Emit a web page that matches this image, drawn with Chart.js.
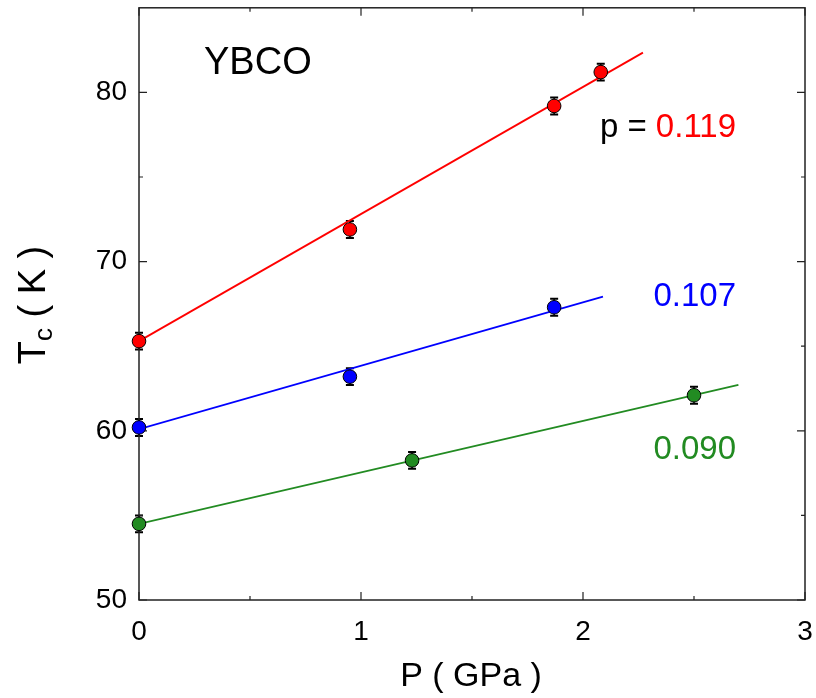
<!DOCTYPE html>
<html>
<head>
<meta charset="utf-8">
<script src="https://cdn.jsdelivr.net/npm/chart.js@4"></script>
<style>
  html, body { margin: 0; padding: 0; background: #ffffff; }
  #wrap { width: 816px; height: 698px; }
</style>
</head>
<body>
<div id="wrap"><canvas id="c" width="816" height="698"></canvas></div>
<script>
// Tc versus pressure for three hole dopings p
const pressure119 = [0, 0.95, 1.87, 2.08];
const tc119 = [65.3, 71.9, 79.2, 81.2];
const pressure107 = [0, 0.95, 1.87];
const tc107 = [60.2, 63.2, 67.3];
const pressure090 = [0, 1.23, 2.50];
const tc090 = [54.5, 58.25, 62.1];
const tcError = 0.5;

// Linear fit lines (start and end)
const fit119P = [0, 2.27];
const fit119T = [65.3, 82.35];
const fit107P = [0, 2.09];
const fit107T = [60.1, 67.93];
const fit090P = [0, 2.70];
const fit090T = [54.5, 62.71];

// Axis ticks
const xMajorTicks = [0, 1, 2, 3];
const xMinorTicks = [0.5, 1.5, 2.5];
const yMajorTicks = [50, 60, 70, 80];
const yMinorTicks = [55, 65, 75];

const RED = '#ff0000', BLUE = '#0000ff', GREEN = '#228b22';
const FONT = '"Liberation Sans", Arial, Helvetica, sans-serif';

const toXY = (xs, ys) => xs.map((x, i) => ({ x: x, y: ys[i] }));

function pointSet(label, xs, ys, color) {
  return {
    label: label, data: toXY(xs, ys), showLine: false, clip: false,
    pointRadius: 6.8, pointHoverRadius: 6.8,
    pointBackgroundColor: color, pointBorderColor: '#000000', pointBorderWidth: 1
  };
}
function fitSet(label, xs, ys, color) {
  return {
    label: label, data: toXY(xs, ys), showLine: true, pointRadius: 0,
    borderColor: color, borderWidth: 1.8, fill: false
  };
}

// Vertical error bars with caps, behind the markers
const errorBars = {
  id: 'errorBars',
  beforeDatasetsDraw(chart) {
    const ctx = chart.ctx, xs = chart.scales.x, ys = chart.scales.y;
    ctx.save();
    ctx.strokeStyle = '#000000';
    chart.data.datasets.forEach(ds => {
      if (ds.showLine) return;
      ds.data.forEach(p => {
        const px = xs.getPixelForValue(p.x);
        const top = ys.getPixelForValue(p.y + tcError);
        const bot = ys.getPixelForValue(p.y - tcError);
        ctx.lineWidth = 1.5;
        ctx.beginPath(); ctx.moveTo(px, top); ctx.lineTo(px, bot); ctx.stroke();
        ctx.lineWidth = 2;
        ctx.beginPath();
        ctx.moveTo(px - 4, top); ctx.lineTo(px + 4, top);
        ctx.moveTo(px - 4, bot); ctx.lineTo(px + 4, bot);
        ctx.stroke();
      });
    });
    ctx.restore();
  }
};

// Frame with inward ticks on all four sides, titles and annotations
const frameAndText = {
  id: 'frameAndText',
  beforeDatasetsDraw(chart) {
    const ctx = chart.ctx, a = chart.chartArea;
    const xs = chart.scales.x, ys = chart.scales.y;
    ctx.save();
    ctx.strokeStyle = '#222222';
    ctx.lineWidth = 1.5;
    ctx.strokeRect(a.left, a.top, a.right - a.left, a.bottom - a.top);
    ctx.lineWidth = 1.2;
    ctx.beginPath();
    const xt = (v, len) => {
      const px = xs.getPixelForValue(v);
      ctx.moveTo(px, a.bottom); ctx.lineTo(px, a.bottom - len);
      ctx.moveTo(px, a.top); ctx.lineTo(px, a.top + len);
    };
    const yt = (v, len) => {
      const py = ys.getPixelForValue(v);
      ctx.moveTo(a.left, py); ctx.lineTo(a.left + len, py);
      ctx.moveTo(a.right, py); ctx.lineTo(a.right - len, py);
    };
    xMajorTicks.forEach(v => xt(v, 8));
    xMinorTicks.forEach(v => xt(v, 4));
    yMajorTicks.forEach(v => yt(v, 8));
    yMinorTicks.forEach(v => yt(v, 4));
    ctx.stroke();
    ctx.restore();
  },
  afterDraw(chart) {
    const ctx = chart.ctx, a = chart.chartArea;
    ctx.save();
    // x-axis title
    ctx.fillStyle = '#000000';
    ctx.textBaseline = 'alphabetic';
    ctx.textAlign = 'center';
    ctx.font = '34px ' + FONT;
    ctx.fillText('P ( GPa )', (a.left + a.right) / 2 - 1, 686);

    // y-axis title with subscript
    ctx.save();
    ctx.translate(45, 305);
    ctx.rotate(-Math.PI / 2);
    ctx.textAlign = 'left';
    const big = '38px ' + FONT, small = '26px ' + FONT;
    ctx.font = big; const wT = ctx.measureText('T').width;
    ctx.font = small; const wc = ctx.measureText('c').width;
    ctx.font = big; const wR = ctx.measureText(' ( K )').width;
    let x0 = -(wT + wc + wR) / 2;
    ctx.font = big; ctx.fillText('T', x0, 0); x0 += wT;
    ctx.font = small; ctx.fillText('c', x0, 7); x0 += wc;
    ctx.font = big; ctx.fillText(' ( K )', x0, 0);
    ctx.restore();

    // annotations
    ctx.textAlign = 'left';
    ctx.font = '38px ' + FONT;
    ctx.fillStyle = '#000000';
    ctx.fillText('YBCO', 204, 74);

    ctx.font = '33px ' + FONT;
    ctx.textAlign = 'right';
    ctx.fillStyle = RED;
    ctx.fillText('0.119', 736, 137);
    const w119 = ctx.measureText('0.119').width;
    ctx.fillStyle = '#000000';
    ctx.fillText('p = ', 736 - w119, 137);
    ctx.fillStyle = BLUE;
    ctx.fillText('0.107', 736, 306);
    ctx.fillStyle = GREEN;
    ctx.fillText('0.090', 736, 459);
    ctx.restore();
  }
};

new Chart(document.getElementById('c'), {
  type: 'scatter',
  data: {
    datasets: [
      pointSet('p = 0.119', pressure119, tc119, RED),
      pointSet('p = 0.107', pressure107, tc107, BLUE),
      pointSet('p = 0.090', pressure090, tc090, GREEN),
      fitSet('fit 0.119', fit119P, fit119T, RED),
      fitSet('fit 0.107', fit107P, fit107T, BLUE),
      fitSet('fit 0.090', fit090P, fit090T, GREEN)
    ]
  },
  options: {
    responsive: false,
    animation: false,
    devicePixelRatio: 1,
    layout: { padding: { top: 6, right: 11, left: 0, bottom: 0 } },
    plugins: { legend: { display: false }, tooltip: { enabled: false } },
    scales: {
      x: {
        type: 'linear', min: 0, max: 3,
        afterBuildTicks: s => { s.ticks = xMajorTicks.map(v => ({ value: v })); },
        afterFit: s => { s.height = 98; s.paddingLeft = 0; s.paddingRight = 0; },
        grid: { display: true, drawOnChartArea: false, drawTicks: false },
        border: { display: false },
        ticks: { padding: 15, color: '#000000', font: { family: FONT, size: 28 }, maxRotation: 0 }
      },
      y: {
        type: 'linear', min: 50, max: 85,
        afterBuildTicks: s => { s.ticks = yMajorTicks.map(v => ({ value: v })); },
        afterFit: s => { s.width = 139; s.paddingTop = 0; s.paddingBottom = 0; },
        grid: { display: true, drawOnChartArea: false, drawTicks: false },
        border: { display: false },
        ticks: { padding: 12, color: '#000000', font: { family: FONT, size: 28 } }
      }
    }
  },
  plugins: [errorBars, frameAndText]
});
</script>
</body>
</html>
